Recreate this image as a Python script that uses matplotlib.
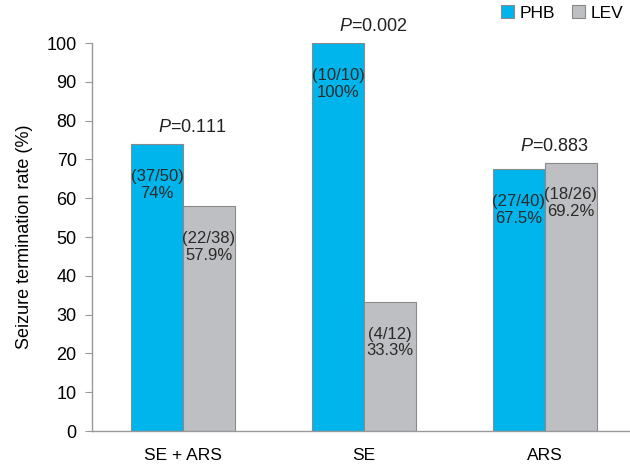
import matplotlib.pyplot as plt
import numpy as np

plt.rcParams['font.family'] = ['Liberation Sans', 'DejaVu Sans']
plt.rcParams['mathtext.fontset'] = 'custom'
plt.rcParams['mathtext.it'] = 'Liberation Sans:italic'
plt.rcParams['mathtext.rm'] = 'Liberation Sans'

groups = ['SE + ARS', 'SE', 'ARS']
phb = [74, 100, 67.5]
lev = [57.9, 33.3, 69.2]
phb_counts = ['(37/50)', '(10/10)', '(27/40)']
lev_counts = ['(22/38)', '(4/12)', '(18/26)']
phb_pct = ['74%', '100%', '67.5%']
lev_pct = ['57.9%', '33.3%', '69.2%']
p_values = ['0.111', '0.002', '0.883']

blue = '#00B5EC'
grey = '#BEBFC3'
edge = '#8A8A8A'

fig = plt.figure(figsize=(6.3, 4.68), dpi=100)
ax = fig.add_axes([0.146, 0.079, 0.854, 0.829])

x = np.arange(len(groups))
w = 0.287
ax.bar(x - w / 2, phb, w, color=blue, edgecolor=edge, linewidth=0.8, label='PHB')
ax.bar(x + w / 2, lev, w, color=grey, edgecolor=edge, linewidth=0.8, label='LEV')

for i in range(len(groups)):
    ax.text(x[i] - w / 2, phb[i] - 10.5, phb_counts[i] + '\n' + phb_pct[i],
            ha='center', va='center', fontsize=12, color='#2a2a2a', linespacing=1.15)
    ax.text(x[i] + w / 2, lev[i] - 10.5, lev_counts[i] + '\n' + lev_pct[i],
            ha='center', va='center', fontsize=12, color='#2a2a2a', linespacing=1.15)
    top = max(phb[i], lev[i])
    ax.text(x[i] + 0.05, top + 2, r'$\it{P}$' + '=' + p_values[i],
            ha='center', va='bottom', fontsize=13, color='#222222')

ax.set_xlim(-0.503, 2.47)
ax.set_ylim(0, 100)
ax.set_yticks(range(0, 101, 10))
ax.set_xticks(x)
ax.set_xticklabels(groups)
ax.tick_params(axis='x', length=0, pad=12, labelsize=12.5)
ax.tick_params(axis='y', length=5, color='#999999', labelsize=13, pad=6)
ax.set_ylabel('Seizure termination rate (%)', fontsize=13, labelpad=10)

for s in ['top', 'right']:
    ax.spines[s].set_visible(False)
for s in ['left', 'bottom']:
    ax.spines[s].set_color('#999999')
    ax.spines[s].set_linewidth(1.0)

ax.legend(loc='upper right', bbox_to_anchor=(1.0, 1.115), ncol=2, frameon=False,
          fontsize=12.5, handlelength=0.75, handleheight=0.75, handletextpad=0.3,
          columnspacing=1.0, borderaxespad=0)

plt.savefig('out.png', dpi=100)
